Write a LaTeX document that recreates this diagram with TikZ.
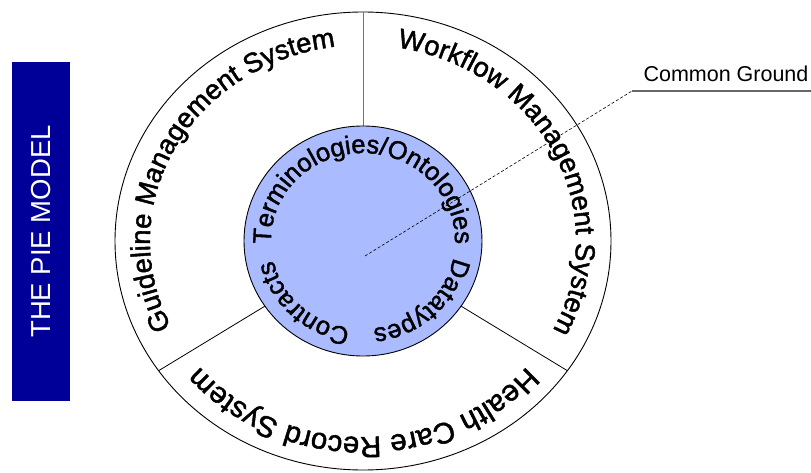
\documentclass[tikz,border=0pt]{standalone}
\usepackage{fontspec}
\setmainfont{Liberation Sans}
\newfontfamily\piecurve{Liberation Sans}[FakeBold=1.6]
\usetikzlibrary{decorations.text}

\definecolor{piebox}{RGB}{0,0,153}
\definecolor{piehub}{RGB}{170,187,255}
\newcommand\pieouterfont{\piecurve\fontsize{27.5}{30}\selectfont}
\newcommand\piebottomfont{\piecurve\fontsize{29.5}{32}\selectfont}
\newcommand\pieinnerfont{\piecurve\fontsize{25.5}{28}\selectfont}

\begin{document}
\begin{tikzpicture}[x=1pt,y=1pt,
        osty/.style={decorate,decoration={text along path,text align=center,text={|\pieouterfont|#1}}},
        bsty/.style={decorate,decoration={text along path,text align=center,text={|\piebottomfont|#1}}},
        isty/.style={decorate,decoration={text along path,text align=center,text={|\pieinnerfont|#1}}},
        dsty/.style={line width=0.8pt},
        ]

    \useasboundingbox (0,0) rectangle (811,472);

    \node (title) at (41,240.5) [fill=piebox,text=white,rotate=90,minimum width=339pt,minimum height=58pt,inner sep=0pt,font=\fontsize{27.5}{30}\selectfont] {THE PIE MODEL};

    \coordinate (ctr) at (363,231);
    \path (ctr) ++(90:119pt and 115pt) coordinate (ti1) (ctr) ++(90:248pt and 229pt) coordinate (to1);
    \path (ctr) ++(214.5:119pt and 115pt) coordinate (ti2) (ctr) ++(214.5:248pt and 229pt) coordinate (to2);
    \path (ctr) ++(-34.5:119pt and 115pt) coordinate (ti3) (ctr) ++(-34.5:248pt and 229pt) coordinate (to3);

    \draw[line width=0.9pt] (ctr) ellipse [x radius=248, y radius=229];
    \draw[dsty,color=black!55] (ti1) -- (to1);
    \draw[dsty] (ti2) -- (to2);
    \draw[dsty] (ti3) -- (to3);
    \draw[line width=0.9pt,fill=piehub] (ctr) ellipse [x radius=119, y radius=115];

    % common ground leader
    \coordinate (hub) at (365,216);
    \coordinate (knee) at (632,381);
    \coordinate (tail) at (811,381);
    \node (cg) at (640,390) [anchor=base west,font=\fontsize{21.5}{24}\selectfont] {Common Ground};
    \draw[line width=0.6pt,dash pattern=on 3pt off 2pt] (hub) -- (knee);
    \draw[line width=1.5pt,color=black!60] (knee) -- (tail);

    % outer ring
    \path[osty={Guideline Management System}] (ctr) ++(217:213pt and 196pt) arc [start angle=217, end angle=87, x radius=213, y radius=196];
    \path[osty={Workflow Management System}] (ctr) ++(94:213pt and 196pt) arc [start angle=94, end angle=-41, x radius=213, y radius=196];
    \path[bsty={Health Care Record System}] (ctr) ++(-25:213pt and 196pt) arc [start angle=-25, end angle=-155, x radius=213, y radius=196];

    % inner hub
    \path[isty={Terminologies/Ontologies}] (ctr) ++(190:92pt and 88pt) arc [start angle=190, end angle=-10, x radius=92, y radius=88];
    \path[isty={Datatypes}] (ctr) ++(2:92pt and 88pt) arc [start angle=2, end angle=-96, x radius=92, y radius=88];
    \path[isty={Contracts}] (ctr) ++(-86:92pt and 88pt) arc [start angle=-86, end angle=-180, x radius=92, y radius=88];

\end{tikzpicture}
\end{document}
